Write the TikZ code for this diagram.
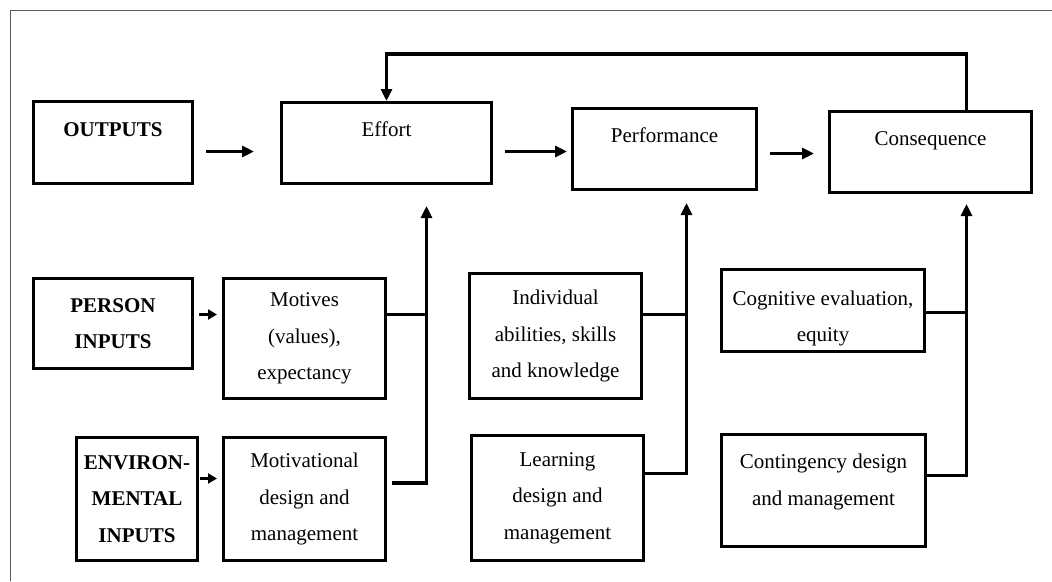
\documentclass[tikz,border=0pt]{standalone}
\usepackage{fontspec}
\setmainfont{Liberation Serif}
\usetikzlibrary{arrows.meta}
\newcommand{\diagfont}{\fontsize{21}{36.5}\selectfont}

\begin{document}
\begin{tikzpicture}[x=1pt,y=-1pt,
    box/.style={draw, line width=3pt, anchor=north west, align=center, inner sep=2pt, font=\diagfont},
    topbox/.style={box, text height=13pt, text depth=26pt},
    inbox/.style={box, font=\diagfont\bfseries},
    arr/.style={line width=3.5pt, -{Triangle[length=12pt,width=11pt]}},
    smallarr/.style={line width=3.5pt, -{Triangle[length=9pt,width=10pt]}},
    link/.style={line width=3.5pt}]
    \useasboundingbox (0,0) rectangle (1052,581);
    %Straight Lines (frame)
    \draw [color={rgb, 255:red, 90; green, 90; blue, 90 }, line width=1pt] (10,581) -- (10,10.5) -- (1052,10.5) ;

    %Shape: Rectangle (top row)
    \node [topbox, font=\diagfont\bfseries, minimum width=159pt, minimum height=82pt] (outputs) at (32,100) {OUTPUTS};
    \node [topbox, minimum width=210pt, minimum height=81pt] (effort) at (280,101) {Effort};
    \node [topbox, minimum width=184pt, minimum height=81pt] (perf) at (571,107) {Performance};
    \node [topbox, minimum width=202pt, minimum height=81pt] (cons) at (828,110) {Consequence};

    %Shape: Rectangle (inputs)
    \node [inbox, minimum width=159pt, minimum height=90pt] (person) at (32,277) {PERSON\\INPUTS};
    \node [box, minimum width=162pt, minimum height=120pt] (motives) at (222,277) {Motives\\(values),\\expectancy};
    \node [inbox, minimum width=121pt, minimum height=123pt] (environ) at (75,436) {ENVIRON-\\MENTAL\\INPUTS};
    \node [box, minimum width=162pt, minimum height=123pt] (motival) at (222,436) {Motivational\\design and\\management};
    \node [box, minimum width=172pt, minimum height=125pt] (abilities) at (468,272) {Individual\\abilities, skills\\and knowledge};
    \node [box, minimum width=172pt, minimum height=125pt] (learning) at (470,434) {Learning\\design and\\management};
    \node [box, text height=67pt, minimum width=203pt, minimum height=82pt] (cognitive) at (720,268) {Cognitive evaluation,\\equity};
    \node [box, text depth=21.5pt, minimum width=204pt, minimum height=112pt] (contingency) at (720,433) {Contingency design\\and management};

    %Straight Lines (main chain)
    \coordinate (oe) at ([xshift=12pt,yshift=-9pt]outputs.east);
    \draw [arr, shorten >=26pt] (oe) -- (oe -| effort.west) ;
    \coordinate (ep) at ([xshift=12pt,yshift=-8.5pt]effort.east);
    \draw [arr, shorten >=4pt] (ep) -- (ep -| perf.west) ;
    \coordinate (pc) at ([xshift=12pt,yshift=-4.5pt]perf.east);
    \draw [arr, shorten >=14pt] (pc) -- (pc -| cons.west) ;
    % feedback
    \coordinate (fbtop) at ([yshift=47pt]effort.north);
    \draw [arr] ([xshift=36pt]cons.north) |- (fbtop) -- (effort.north) ;

    %Straight Lines (into effort)
    \coordinate (pe) at ([xshift=5pt,yshift=9pt]person.east);
    \draw [smallarr, shorten >=5pt] (pe) -- (pe -| motives.west) ;
    \coordinate (ee) at ([xshift=1pt,yshift=20.5pt]environ.east);
    \draw [smallarr, shorten >=5pt] (ee) -- (ee -| motival.west) ;
    \coordinate (effin) at ([xshift=40pt,yshift=-21pt]effort.south);
    \coordinate (motout) at ([yshift=24pt]motives.east);
    \draw [link] (motout) -- (motout -| effin) ;
    \coordinate (mvout) at ([xshift=5pt,yshift=16pt]motival.east);
    \draw [arr] (mvout) -| (effin) ;

    %Straight Lines (into performance)
    \coordinate (perfin) at ([xshift=22pt,yshift=-12pt]perf.south);
    \coordinate (about) at ([yshift=21.5pt]abilities.east);
    \draw [link] (about) -- (about -| perfin) ;
    \coordinate (leout) at ([yshift=24.5pt]learning.east);
    \draw [arr] (leout) -| (perfin) ;

    %Straight Lines (into consequence)
    \coordinate (consin) at ([xshift=36pt,yshift=-10pt]cons.south);
    \coordinate (cgout) at ([yshift=-2pt]cognitive.east);
    \draw [link] (cgout) -- (cgout -| consin) ;
    \coordinate (ctout) at ([yshift=15pt]contingency.east);
    \draw [arr] (ctout) -| (consin) ;
\end{tikzpicture}
\end{document}
